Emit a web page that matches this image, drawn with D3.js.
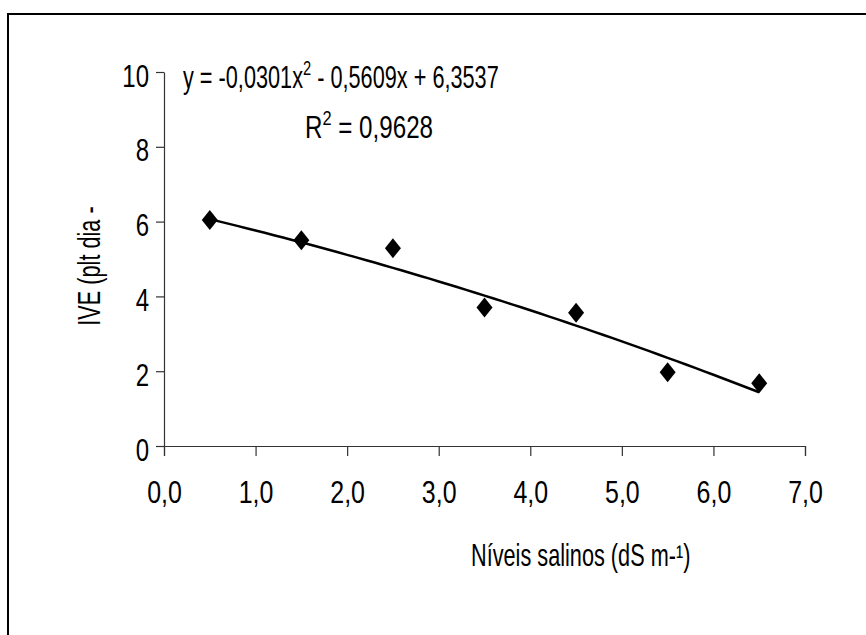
<!DOCTYPE html>
<html>
<head>
<meta charset="utf-8">
<script src="https://cdn.jsdelivr.net/npm/d3@7"></script>
<style>
body { margin: 0; background: #fff; }
text { font-family: "Liberation Sans", Arial, sans-serif; fill: #000; }
</style>
</head>
<body>
<div id="main"></div>
<script>
const Width = 866, Height = 635;

// data
const xTicks = [0, 1, 2, 3, 4, 5, 6, 7];
const yTicks = [0, 2, 4, 6, 8, 10];
const salinity = [0.5, 1.5, 2.5, 3.5, 4.5, 5.5, 6.5];
const ive = [6.04, 5.5, 5.29, 3.70, 3.56, 1.97, 1.68];
const coef = [-0.0301, -0.5609, 6.3537];   // a x^2 + b x + c
const r2 = "0,9628";
const xTitle = "Níveis salinos (dS m-¹)";
const yTitle = "IVE (plt dia -";

const sx = 0.7;   // narrow look of the text
const fontSize = 31;

const svg = d3.select("#main")
    .append("svg")
    .attr("width", Width)
    .attr("height", Height)
;

// outer frame, runs off the right and bottom edge
svg.append("rect")
    .attr("x", 8).attr("y", 14)
    .attr("width", 900).attr("height", 700)
    .attr("fill", "none").attr("stroke", "#000").attr("stroke-width", 2);

const Xscale = d3.scaleLinear().domain([0, 7]).range([164, 805]);
const Yscale = d3.scaleLinear().domain([0, 10]).range([446, 72]);

const comma = d3.formatLocale({decimal: ",", thousands: ".", grouping: [3], currency: ["", ""]});

// y axis
const gy = svg.append("g")
    .attr("transform", "translate(164,0)")
    .call(d3.axisLeft(Yscale).tickValues(yTicks).tickSize(8).tickSizeOuter(0).tickFormat(d3.format("d")));
gy.selectAll("text")
    .attr("x", null).attr("dy", null)
    .attr("text-anchor", "end")
    .attr("transform", `translate(-15,14) scale(0.75,1)`)
    .style("font-size", "32px");

// x axis
const gx = svg.append("g")
    .attr("transform", "translate(0,446)")
    .call(d3.axisBottom(Xscale).tickValues(xTicks).tickSize(10).tickSizeOuter(10).tickFormat(comma.format(".1f")));
gx.selectAll("text")
    .attr("y", null).attr("dy", null)
    .attr("transform", `translate(0,57) scale(0.78,1)`)
    .style("font-size", "32px");

svg.selectAll(".domain, .tick line").attr("stroke", "#333").attr("stroke-width", 1.2);
svg.selectAll(".tick text").attr("fill", "#000").attr("font-family", null);

// trend line from the printed equation
const fit = x => coef[0] * x * x + coef[1] * x + coef[2];
const xs = d3.range(salinity[0], salinity[salinity.length - 1] + 0.001, 0.1);
svg.append("path")
    .datum(xs)
    .attr("fill", "none")
    .attr("stroke", "#000")
    .attr("stroke-width", 2.5)
    .attr("d", d3.line().x(d => Xscale(d)).y(d => Yscale(fit(d))));

// points
svg.selectAll("path.pt")
    .data(salinity.map((s, i) => ({x: s, y: ive[i]})))
    .enter().append("path")
    .attr("class", "pt")
    .attr("d", "M0,-10L8,0L0,10L-8,0Z")
    .attr("fill", "#000")
    .attr("transform", d => `translate(${Xscale(d.x)},${Yscale(d.y)})`);

// equation
const eq = svg.append("text")
    .attr("transform", `translate(183,88) scale(${sx},1)`)
    .style("font-size", fontSize + "px");
eq.append("tspan").text("y = -0,0301x");
eq.append("tspan").attr("dy", -13).style("font-size", "21px").text("2");
eq.append("tspan").attr("dy", 13).text(" - 0,5609x + 6,3537");

const rt = svg.append("text")
    .attr("transform", `translate(305,138) scale(0.78,1)`)
    .style("font-size", fontSize + "px");
rt.append("tspan").text("R");
rt.append("tspan").attr("dy", -13).style("font-size", "21px").text("2");
rt.append("tspan").attr("dy", 13).text(" = " + r2);

// axis titles
svg.append("text")
    .attr("transform", `translate(471,566) scale(${sx},1)`)
    .style("font-size", fontSize + "px")
    .text(xTitle);

svg.append("text")
    .attr("transform", `translate(100,266) rotate(-90) scale(${sx},1)`)
    .attr("text-anchor", "middle")
    .style("font-size", fontSize + "px")
    .text(yTitle);
</script>
</body>
</html>
